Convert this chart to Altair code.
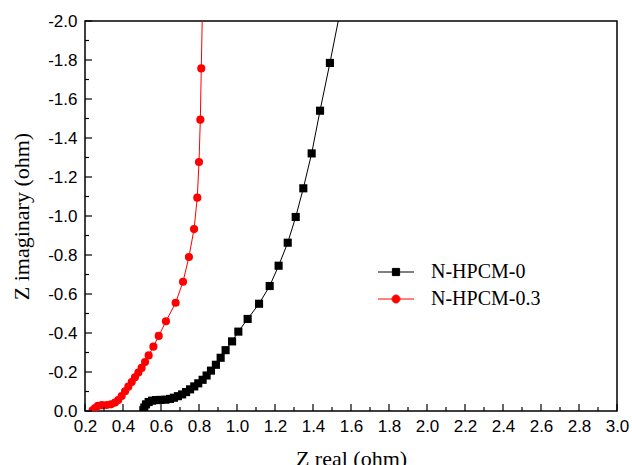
import altair as alt
import pandas as pd

# ---- data ----
s0_name = "N-HPCM-0"
s0_x = [0.507, 0.512, 0.521, 0.535, 0.553, 0.574, 0.598, 0.623, 0.647, 0.668,
        0.689, 0.711, 0.732, 0.753, 0.775, 0.796, 0.819, 0.840, 0.863, 0.889,
        0.914, 0.940, 0.974, 1.007, 1.056, 1.116, 1.172, 1.219, 1.267, 1.309,
        1.349, 1.393, 1.437, 1.489, 1.545]
s0_y = [-0.004, -0.018, -0.034, -0.046, -0.053, -0.056, -0.057, -0.058, -0.062, -0.068,
        -0.076, -0.085, -0.097, -0.111, -0.126, -0.142, -0.160, -0.182, -0.207, -0.237,
        -0.273, -0.312, -0.357, -0.407, -0.472, -0.550, -0.641, -0.745, -0.863, -0.995,
        -1.142, -1.321, -1.540, -1.785, -2.060]

s1_name = "N-HPCM-0.3"
s1_x = [0.240, 0.253, 0.268, 0.289, 0.314, 0.337, 0.358, 0.375, 0.393, 0.411,
        0.428, 0.446, 0.463, 0.481, 0.498, 0.516, 0.535, 0.560, 0.588, 0.626,
        0.677, 0.716, 0.747, 0.774, 0.791, 0.800, 0.807, 0.812, 0.818]
s1_y = [-0.004, -0.015, -0.026, -0.030, -0.031, -0.034, -0.043, -0.056, -0.077, -0.101,
        -0.125, -0.149, -0.173, -0.197, -0.221, -0.251, -0.285, -0.330, -0.385, -0.460,
        -0.555, -0.663, -0.790, -0.933, -1.094, -1.277, -1.494, -1.757, -2.050]

x_ticks = [0.2, 0.4, 0.6, 0.8, 1.0, 1.2, 1.4, 1.6, 1.8, 2.0, 2.2, 2.4, 2.6, 2.8, 3.0]
x_minor = [0.3, 0.5, 0.7, 0.9, 1.1, 1.3, 1.5, 1.7, 1.9, 2.1, 2.3, 2.5, 2.7, 2.9]
y_ticks = [0.0, -0.2, -0.4, -0.6, -0.8, -1.0, -1.2, -1.4, -1.6, -1.8, -2.0]
y_minor = [-0.1, -0.3, -0.5, -0.7, -0.9, -1.1, -1.3, -1.5, -1.7, -1.9]

series = [s0_name, s1_name]
colors = ["#000000", "#ff0000"]

# ---- build tables ----
rows = []
for name, xs, ys in [(s0_name, s0_x, s0_y), (s1_name, s1_x, s1_y)]:
    for i, (a, b) in enumerate(zip(xs, ys)):
        rows.append({"series": name, "zr": a, "zi": b, "idx": i})
df = pd.DataFrame(rows)

W, H = 532, 390
xscale = alt.Scale(domain=[0.2, 3.0], nice=False, zero=False)
yscale = alt.Scale(domain=[-2.0, 0.0], nice=False, zero=False, reverse=True)

x_axis = alt.Axis(values=x_ticks, format=".1f", ticks=False, domain=False,
                  grid=False, labelPadding=7, titleY=54, labelOverlap=False,
                  labelFlush=False, titleBaseline="alphabetic", title="Z real (ohm)")
y_axis = alt.Axis(values=y_ticks, ticks=False, domain=False, grid=False,
                  labelPadding=8, labelOverlap=False, labelFlush=False,
                  labelExpr="datum.value < 0 ? '-' + format(-datum.value, '.1f') : format(datum.value, '.1f')",
                  titleX=-57, titleBaseline="alphabetic", title="Z imaginary (ohm)")

X = alt.X("zr:Q", scale=xscale, axis=x_axis)
Y = alt.Y("zi:Q", scale=yscale, axis=y_axis)

base = alt.Chart(df)

def series_layers(name, color, marker):
    sub = base.transform_filter(alt.datum.series == name)
    ln = sub.mark_line(strokeWidth=1, clip=True, color=color).encode(
        x=X, y=Y, order="idx:Q")
    if marker == "square":
        pt = sub.mark_square(size=66, opacity=1, clip=True, color=color).encode(x=X, y=Y)
    else:
        pt = sub.mark_circle(size=66, opacity=1, clip=True, color=color).encode(x=X, y=Y)
    return [ln, pt]

layers = series_layers(s0_name, colors[0], "square") + series_layers(s1_name, colors[1], "circle")

# legend-only layer (invisible marks) with custom line+marker symbols
sq_path = "M-2.25,0H-0.45M0.45,0H2.25M-0.45,-0.45H0.45V0.45H-0.45Z"
ci_path = ("M-2.25,0H-0.5M0.5,0H2.25M-0.5,0A0.5,0.5 0 1,0 0.5,0"
           "A0.5,0.5 0 1,0 -0.5,0Z")
leg = alt.Legend(title=None, orient="none", legendX=301, legendY=241)
legend_layer = base.mark_point(filled=True, size=256, strokeWidth=1, opacity=0).encode(
    x=X, y=Y,
    fill=alt.Fill("series:N", scale=alt.Scale(domain=series, range=colors), legend=leg),
    stroke=alt.Stroke("series:N", scale=alt.Scale(domain=series, range=colors), legend=leg),
    shape=alt.Shape("series:N", scale=alt.Scale(domain=series, range=[sq_path, ci_path]),
                    legend=leg),
)

# inward axis ticks
tick_rows = ([{"axis": "x", "v": v, "len": 7} for v in x_ticks] +
             [{"axis": "x", "v": v, "len": 4} for v in x_minor] +
             [{"axis": "y", "v": v, "len": 7} for v in y_ticks] +
             [{"axis": "y", "v": v, "len": 4} for v in y_minor])
ticks_df = pd.DataFrame(tick_rows)
tbase = alt.Chart(ticks_df)

def xt(L):
    return tbase.transform_filter(
        (alt.datum.axis == "x") & (alt.datum.len == L)
    ).mark_rule(color="black", strokeWidth=1.2).encode(
        x=alt.X("v:Q", scale=xscale, axis=x_axis),
        y=alt.value(H), y2=alt.value(H - L))

def yt(L):
    return tbase.transform_filter(
        (alt.datum.axis == "y") & (alt.datum.len == L)
    ).mark_rule(color="black", strokeWidth=1.2).encode(
        y=alt.Y("v:Q", scale=yscale, axis=y_axis),
        x=alt.value(0), x2=alt.value(L))

chart = alt.layer(
    *layers, legend_layer, xt(7), xt(4), yt(7), yt(4),
).properties(
    width=W, height=H,
    autosize="none",
    padding={"left": 85, "top": 21, "right": 15, "bottom": 54},
).configure_view(
    stroke="black", strokeWidth=1.5
).configure_axis(
    labelFont="Liberation Sans", labelFontSize=17, labelColor="black",
    titleFont="Liberation Serif", titleFontSize=22, titleFontWeight="normal",
    titleColor="black",
).configure_legend(
    orient="none", legendX=301, legendY=241, padding=0,
    symbolSize=256, symbolStrokeWidth=1, symbolOpacity=1,
    labelFont="Liberation Serif", labelFontSize=20, labelColor="black",
    labelOffset=25, rowPadding=7,
)

chart.save("out.html", embed_options={"renderer": "svg", "actions": False})
